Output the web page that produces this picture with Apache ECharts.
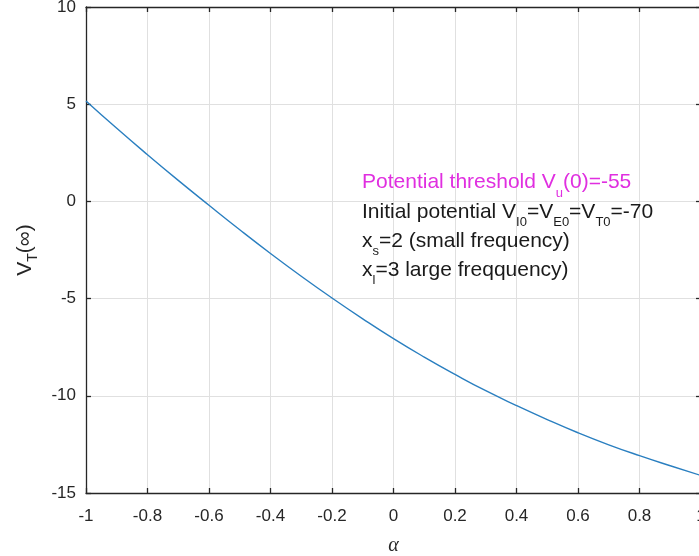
<!DOCTYPE html>
<html>
<head>
<meta charset="utf-8">
<script src="https://cdn.jsdelivr.net/npm/echarts@6/dist/echarts.min.js"></script>
<style>html,body{margin:0;padding:0;background:#fff}#c{width:699px;height:556px}</style>
</head>
<body>
<div id="c"></div>
<script>
// ---- data ----
var alphaValues = [-1, -0.9, -0.8, -0.7, -0.6, -0.5, -0.4, -0.3, -0.2, -0.1, 0, 0.1, 0.2, 0.3, 0.4, 0.5, 0.6, 0.7, 0.8, 0.9, 1];
var vtInfinity = [5.17, 3.76, 2.40, 1.08, -0.2, -1.46, -2.68, -3.85, -4.97, -6.04, -7.06, -8.01, -8.9, -9.74, -10.5, -11.22, -11.9, -12.52, -13.08, -13.6, -14.1];
var xTickLabels = ['-1', '-0.8', '-0.6', '-0.4', '-0.2', '0', '0.2', '0.4', '0.6', '0.8', '1'];
var yTickLabels = ['-15', '-10', '-5', '0', '5', '10'];
var annotationLines = [
  '{m|Potential threshold V}{ms|u}{m|(0)=-55}',
  '{n|Initial potential V}{s|I0}{n|=V}{s|E0}{n|=V}{s|T0}{n|=-70}',
  '{n|x}{s|s}{n|=2 (small frequency)}',
  '{n|x}{s|l}{n|=3 large freqquency)}'
];

var FONT = '"Liberation Sans", Arial, Helvetica, sans-serif';
var TXT = '#262626';
var pts = alphaValues.map(function (a, i) { return [a, vtInfinity[i]]; });

function fmt(list) {
  return function (v) {
    for (var i = 0; i < list.length; i++) if (Math.abs(parseFloat(list[i]) - v) < 1e-6) return list[i];
    return '';
  };
}

var richAnno = {
  m: { fontSize: 21, fill: '#E02FE0', fontFamily: FONT },
  ms: { fontSize: 13, fill: '#E02FE0', fontFamily: FONT, padding: [22, 0, 0, 0] },
  n: { fontSize: 21, fill: '#1a1a1a', fontFamily: FONT },
  s: { fontSize: 13, fill: '#1a1a1a', fontFamily: FONT, padding: [20, 0, 0, 0] }
};
var annoY = [182, 212, 241, 270];

var chart = echarts.init(document.getElementById('c'), null, { renderer: 'canvas' });
var axisLineStyle = { color: '#262626', width: 1.3 };
var splitLineStyle = { color: '#e0e0e0', width: 1 };
chart.setOption({
  animation: false,
  backgroundColor: '#ffffff',
  grid: { left: 86, top: 7, width: 615, height: 486, containLabel: false, outerBoundsMode: 'none' },
  xAxis: [{
    type: 'value', min: -1, max: 1, interval: 0.2, position: 'bottom',
    axisLine: { show: true, onZero: false, lineStyle: axisLineStyle },
    axisTick: { show: true, inside: true, length: 5, lineStyle: axisLineStyle },
    splitLine: { show: true, lineStyle: splitLineStyle },
    axisLabel: { color: TXT, fontSize: 17, fontFamily: FONT, margin: 15, formatter: fmt(xTickLabels) },
    name: 'α', nameLocation: 'middle', nameGap: 43,
    nameTextStyle: { fontSize: 20, fontStyle: 'italic', fontFamily: '"Liberation Serif", "DejaVu Serif", serif', color: TXT }
  }, {
    type: 'value', min: -1, max: 1, interval: 0.2, position: 'top',
    axisLine: { show: true, onZero: false, lineStyle: axisLineStyle },
    axisTick: { show: true, inside: true, length: 5, lineStyle: axisLineStyle },
    splitLine: { show: false }, axisLabel: { show: false }
  }],
  yAxis: [{
    type: 'value', min: -15, max: 10, interval: 5, position: 'left',
    axisLine: { show: true, onZero: false, lineStyle: axisLineStyle },
    axisTick: { show: true, inside: true, length: 5, lineStyle: axisLineStyle },
    splitLine: { show: true, lineStyle: splitLineStyle },
    axisLabel: { color: TXT, fontSize: 17, fontFamily: FONT, margin: 10, formatter: fmt(yTickLabels) },
    name: '{v|V}{t|T}{v|(∞)}', nameLocation: 'middle', nameGap: 46, nameRotate: 90,
    nameTextStyle: {
      color: TXT,
      rich: {
        v: { fontSize: 21, fontFamily: FONT, color: TXT },
        t: { fontSize: 14, fontFamily: FONT, color: TXT, padding: [16, 0, 0, 0] }
      }
    }
  }, {
    type: 'value', min: -15, max: 10, interval: 5, position: 'right',
    axisLine: { show: true, onZero: false, lineStyle: axisLineStyle },
    axisTick: { show: true, inside: true, length: 5, lineStyle: axisLineStyle },
    splitLine: { show: false }, axisLabel: { show: false }
  }],
  graphic: annotationLines.map(function (t, i) {
    return {
      type: 'text', x: 362, y: annoY[i], z: 10,
      style: { text: t, rich: richAnno, fontSize: 21, fontFamily: FONT, align: 'left', verticalAlign: 'middle' }
    };
  }),
  series: [{
    type: 'line', data: pts, smooth: true, showSymbol: false,
    xAxisIndex: 0, yAxisIndex: 0,
    lineStyle: { color: '#2a7fc0', width: 1.4 }
  }]
});
</script>
</body>
</html>
